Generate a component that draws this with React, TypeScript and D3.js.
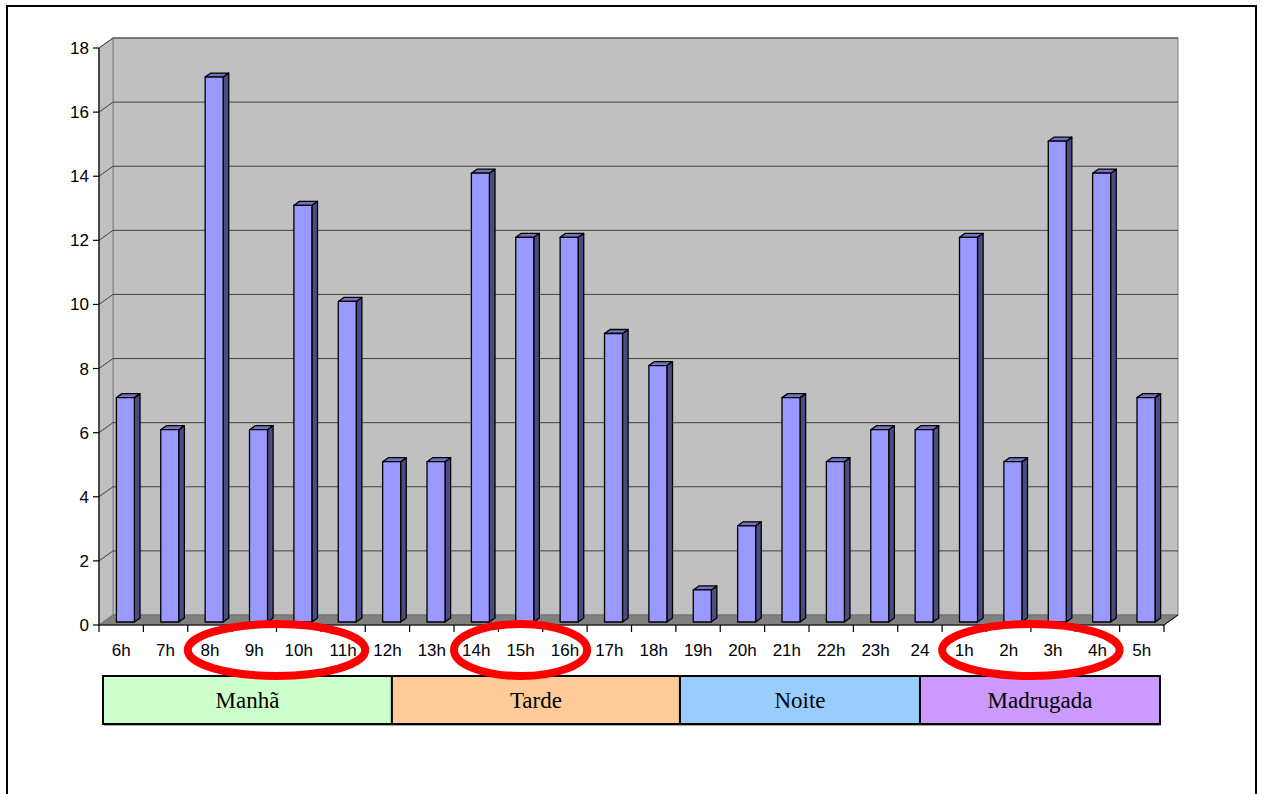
import React from "react";
import * as d3 from "d3";

const categories = ["6h","7h","8h","9h","10h","11h","12h","13h","14h","15h","16h","17h","18h","19h","20h","21h","22h","23h","24","1h","2h","3h","4h","5h"];
const values = [7,6,17,6,13,10,5,5,14,12,12,9,8,1,3,7,5,6,6,12,5,15,14,7];
const yTicks = [0,2,4,6,8,10,12,14,16,18];
const periods = ["Manhã","Tarde","Noite","Madrugada"];
const periodSpans = [[0,6.56],[6.56,13.1],[13.1,18.55],[18.55,24]];
const periodColors = ["#ccffcc","#ffcc99","#99ccff","#cc99ff"];
const highlights = [[2,5],[8,10],[19,22]];

export default function App() {
  const W = 1263, H = 794;
  const x0 = 99, x1 = 1164, yBase = 625, yTop = 48;
  const DX = 14, DY = -10;
  const x = d3.scaleBand<string>().domain(categories).range([x0, x1]).paddingInner(0).paddingOuter(0);
  const y = d3.scaleLinear().domain([0, 18]).range([yBase, yTop]);
  const bw = x.bandwidth();
  const barW = 18;
  const f1 = 0.3, f2 = 0.7;
  const legX = d3.scaleLinear().domain([0, 24]).range([103, 1160]);
  const legY = 676, legH = 48;

  return (
    <svg width={W} height={H} style={{ position: "absolute", left: 0, top: 0, fontFamily: "Arial, 'Liberation Sans', sans-serif" }}>
      <rect x={0} y={0} width={W} height={H} fill="#fff" />
      <rect x={7} y={6} width={1249} height={H + 20} fill="none" stroke="#000" strokeWidth={2} />
      {/* back wall */}
      <rect x={x0 + DX} y={yTop + DY} width={x1 - x0} height={yBase - yTop} fill="#c0c0c0" stroke="#808080" strokeWidth={1} />
      {/* side wall */}
      <polygon points={`${x0},${yTop} ${x0 + DX},${yTop + DY} ${x0 + DX},${yBase + DY} ${x0},${yBase}`} fill="#c0c0c0" stroke="#808080" strokeWidth={1} />
      {/* floor */}
      <polygon points={`${x0},${yBase} ${x0 + DX},${yBase + DY} ${x1 + DX},${yBase + DY} ${x1},${yBase}`} fill="#808080" stroke="#6e6e6e" strokeWidth={1} />
      {/* gridlines */}
      {yTicks.filter(t => t > 0).map(t => (
        <g key={t}>
          <line x1={x0 + DX} x2={x1 + DX} y1={y(t) + DY} y2={y(t) + DY} stroke="#404040" strokeWidth={1} />
          <line x1={x0} x2={x0 + DX} y1={y(t)} y2={y(t) + DY} stroke="#404040" strokeWidth={1} />
        </g>
      ))}
      {/* bars */}
      {categories.map((c, i) => {
        const v = values[i];
        const cx = (x(c) as number) + bw / 2;
        const fx = cx - barW / 2 + DX * f1;
        const fy0 = yBase + DY * f1;
        const fyt = y(v) + DY * f1;
        const ddx = DX * (f2 - f1), ddy = DY * (f2 - f1);
        return (
          <g key={c} stroke="#000" strokeWidth={1.3} strokeLinejoin="round">
            <polygon points={`${fx + barW},${fyt} ${fx + barW + ddx},${fyt + ddy} ${fx + barW + ddx},${fy0 + ddy} ${fx + barW},${fy0}`} fill="#4c4c80" />
            <polygon points={`${fx},${fyt} ${fx + ddx},${fyt + ddy} ${fx + barW + ddx},${fyt + ddy} ${fx + barW},${fyt}`} fill="#7373bf" />
            <rect x={fx} y={fyt} width={barW} height={fy0 - fyt} fill="#9999ff" />
          </g>
        );
      })}
      {/* y axis */}
      <line x1={x0} x2={x0} y1={yTop} y2={yBase} stroke="#000" strokeWidth={1.2} />
      {yTicks.map(t => (
        <g key={t}>
          <line x1={x0 - 6} x2={x0} y1={y(t)} y2={y(t)} stroke="#000" strokeWidth={1.2} />
          <text x={x0 - 10} y={y(t)} dy="0.35em" textAnchor="end" fontSize={17} fill="#000">{t}</text>
        </g>
      ))}
      {/* x axis */}
      <line x1={x0} x2={x1} y1={yBase} y2={yBase} stroke="#000" strokeWidth={1.2} />
      <line x1={x1} x2={x1 + DX} y1={yBase} y2={yBase + DY} stroke="#000" strokeWidth={1} />
      {categories.map((c, i) => (
        <line key={"t" + c} x1={x(c) as number} x2={x(c) as number} y1={yBase} y2={yBase + 7} stroke="#000" strokeWidth={1.2} />
      ))}
      <line x1={x1} x2={x1} y1={yBase} y2={yBase + 7} stroke="#000" strokeWidth={1.2} />
      {categories.map(c => (
        <text key={"l" + c} x={(x(c) as number) + bw / 2} y={650} dy="0.35em" textAnchor="middle" fontSize={17} fill="#000">{c}</text>
      ))}
      {/* period legend */}
      <rect x={legX(0) + 1} y={legY + 2} width={legX(24) - legX(0)} height={legH} fill="#aaa" />
      {periods.map((p, i) => {
        const a = legX(periodSpans[i][0]), b = legX(periodSpans[i][1]);
        return (
          <g key={p}>
            <rect x={a} y={legY} width={b - a} height={legH} fill={periodColors[i]} stroke="#000" strokeWidth={2} />
            <text x={(a + b) / 2} y={legY + legH / 2} dy="0.35em" textAnchor="middle" fontSize={23} fontFamily="'Liberation Serif', 'Times New Roman', serif" fill="#000">{p}</text>
          </g>
        );
      })}
      {/* red ellipses */}
      {highlights.map(([s, e], i) => {
        const a = x(categories[s]) as number, b = (x(categories[e]) as number) + bw;
        return (
          <ellipse key={i} cx={(a + b) / 2} cy={650} rx={(b - a) / 2} ry={26} fill="none" stroke="#ff0000" strokeWidth={8} />
        );
      })}
    </svg>
  );
}
